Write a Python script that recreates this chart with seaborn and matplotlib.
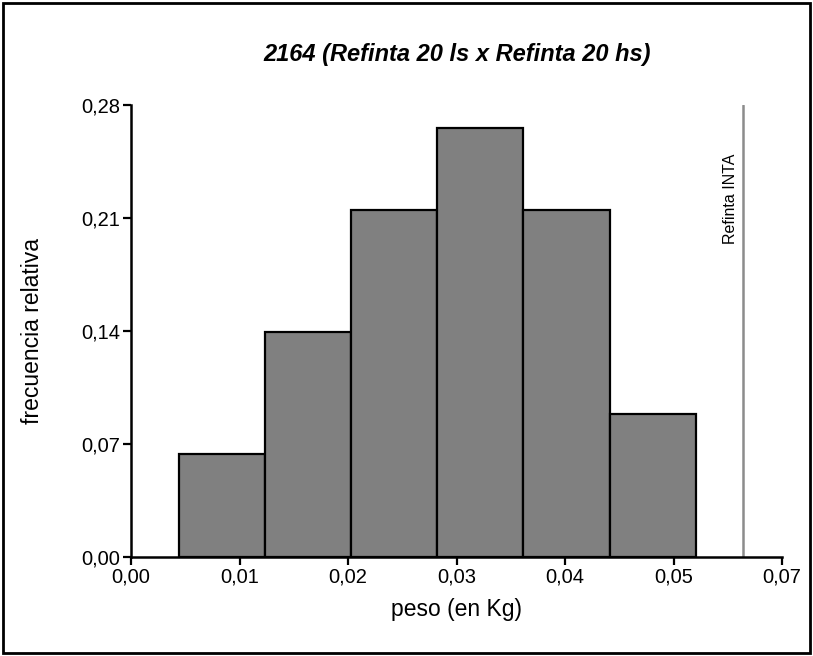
import matplotlib
matplotlib.use("Agg")
import matplotlib.pyplot as plt
import seaborn as sns
import numpy as np
from matplotlib.patches import Rectangle

# ---- data ----
bin_edges = [0.00483, 0.01348, 0.02213, 0.03078, 0.03943, 0.04808, 0.05673]
rel_freq = [0.0635, 0.1393, 0.2149, 0.2660, 0.2149, 0.0885]
ref_value = 0.0615
ref_label = "Refinta INTA"
x_ticks = [0.0, 0.0109, 0.0218, 0.0327, 0.0436, 0.0545, 0.0654]
x_ticklabels = ["0,00", "0,01", "0,02", "0,03", "0,04", "0,05", "0,07"]
y_ticks = [0.0, 0.07, 0.14, 0.21, 0.28]
y_ticklabels = ["0,00", "0,07", "0,14", "0,21", "0,28"]
title = "2164 (Refinta 20 ls x Refinta 20 hs)"
xlabel = "peso (en Kg)"
ylabel = "frecuencia relativa"

sns.set_style("white")
plt.rcParams['font.family'] = ['Liberation Sans', 'DejaVu Sans']
plt.rcParams['text.color'] = 'black'
plt.rcParams['axes.labelcolor'] = 'black'

fig = plt.figure(figsize=(8.13, 6.56), dpi=100)
ax = fig.add_axes([131/813, 1-556.7/656, (782-131)/813, (556.7-105)/656])

centers = [(bin_edges[i] + bin_edges[i+1]) / 2 for i in range(len(rel_freq))]
sns.histplot(x=centers, weights=rel_freq, bins=bin_edges, stat="count",
             color="#808080", edgecolor="black", linewidth=1.6, alpha=1.0, ax=ax)

ax.plot([ref_value, ref_value], [0, y_ticks[-1]], color="#8c8c8c", lw=1.8, zorder=1)
ax.text(ref_value - 0.0013, 0.222, ref_label, rotation=90, ha="center", va="center",
        fontsize=11.5, color="black")

ax.set_xlim(x_ticks[0], x_ticks[-1])
ax.set_ylim(y_ticks[0], y_ticks[-1])
ax.set_xticks(x_ticks)
ax.set_xticklabels(x_ticklabels)
ax.set_yticks(y_ticks)
ax.set_yticklabels(y_ticklabels)
ax.tick_params(axis="both", direction="out", length=6, width=1.6, labelsize=14.5,
               color="black", labelcolor="black", pad=2, bottom=True, left=True)
for s in ["top", "right"]:
    ax.spines[s].set_visible(False)
for s in ["left", "bottom"]:
    ax.spines[s].set_linewidth(1.8)
    ax.spines[s].set_color("black")

ax.set_xlabel(xlabel, fontsize=16.5, labelpad=8, color="black")
ax.set_ylabel(ylabel, fontsize=16.5, color="black")
ax.yaxis.set_label_coords(-(131-44)/651, 0.5)
fig.text(457/813, 1-55/656, title, ha="center", va="center", fontsize=17,
         fontweight="bold", fontstyle="italic", color="black")

fig.patches.append(Rectangle((3/813, 3/656), 807/813, 650/656, transform=fig.transFigure,
                             fill=False, edgecolor="black", linewidth=2))

fig.savefig("out.png", dpi=100)
